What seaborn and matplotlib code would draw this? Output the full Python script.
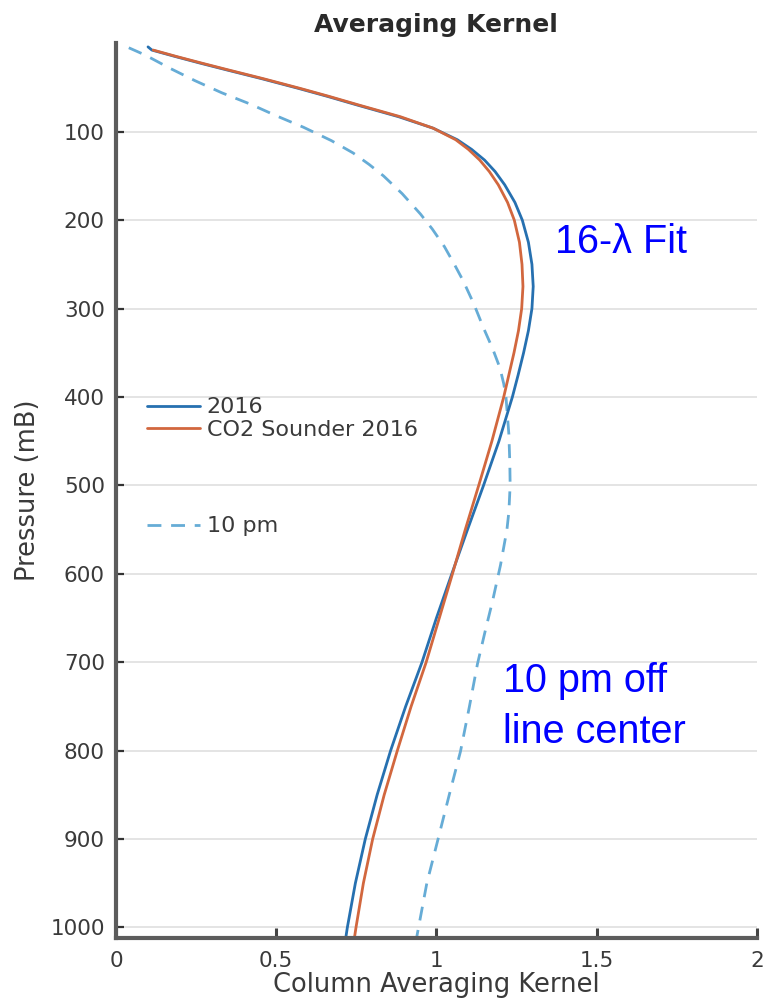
import matplotlib
matplotlib.use("Agg")
import matplotlib.pyplot as plt
import seaborn as sns

# Column averaging kernel profiles (pressure in mB, kernel dimensionless)
pressure_2016 = [4, 7.6, 15, 22.6, 30, 40, 51, 60, 70, 83, 96, 109, 120, 132, 145,
                 160, 180, 200, 225, 250, 275, 300, 325, 350, 375, 400, 450, 500,
                 550, 600, 650, 700, 750, 800, 850, 900, 950, 1000, 1012]
kernel_2016 = [0.10, 0.112, 0.186, 0.265, 0.345, 0.455, 0.57, 0.66, 0.755, 0.882,
               0.99, 1.065, 1.11, 1.15, 1.183, 1.213, 1.245, 1.268, 1.287, 1.298,
               1.302, 1.298, 1.287, 1.272, 1.255, 1.237, 1.195, 1.147, 1.097,
               1.048, 1.0, 0.955, 0.904, 0.857, 0.815, 0.778, 0.747, 0.722, 0.717]

pressure_sounder = [7.6, 15, 22.6, 30, 40, 51, 60, 70, 83, 96, 109, 120, 132, 145,
                    160, 180, 200, 225, 250, 275, 300, 325, 350, 375, 400, 450, 500,
                    550, 600, 650, 700, 750, 800, 850, 900, 950, 1000, 1012]
kernel_sounder = [0.116, 0.19, 0.27, 0.35, 0.46, 0.575, 0.665, 0.76, 0.8875, 0.99,
                  1.06, 1.10, 1.135, 1.165, 1.193, 1.222, 1.243, 1.259, 1.267,
                  1.27, 1.266, 1.256, 1.242, 1.226, 1.21, 1.173, 1.132, 1.09, 1.05,
                  1.009, 0.968, 0.921, 0.878, 0.837, 0.801, 0.772, 0.749, 0.744]

pressure_10pm = [5, 13.2, 28.3, 42.3, 55.9, 68.7, 82.2, 94.9, 110, 124, 137, 150,
                 170, 193, 210, 230, 250, 269, 295, 322, 345, 367, 385, 400, 442,
                 475, 500, 530, 550, 590, 631, 665, 702, 750, 801, 850, 903, 950,
                 1008, 1012]
kernel_10pm = [0.04, 0.091, 0.169, 0.247, 0.33, 0.419, 0.502, 0.585, 0.672, 0.74,
               0.79, 0.835, 0.893, 0.95, 0.987, 1.025, 1.056, 1.084, 1.117, 1.147,
               1.175, 1.198, 1.21, 1.217, 1.226, 1.229, 1.23, 1.226, 1.22, 1.20,
               1.175, 1.152, 1.128, 1.103, 1.075, 1.04, 1.003, 0.97, 0.94, 0.938]

series_labels = ["2016", "CO2 Sounder 2016", "10 pm"]
y_ticks = [100, 200, 300, 400, 500, 600, 700, 800, 900, 1000]
x_ticks = [0, 0.5, 1, 1.5, 2]
x_tick_labels = ["0", "0.5", "1", "1.5", "2"]

sns.set_theme(style="white")
plt.rcParams["font.family"] = ["DejaVu Sans"]

text_gray = "#3a3a3a"
blue = "#2670b0"
red = "#d2673e"
light_blue = "#66acd6"

fig = plt.figure(figsize=(7.63, 10.01), dpi=100)
ax = fig.add_axes([0.152, 0.0629, 0.840, 0.8938])

sns.lineplot(x=kernel_10pm, y=pressure_10pm, sort=False, estimator=None,
             color=light_blue, linewidth=2.0, linestyle=(0, (5, 3.5)),
             label=series_labels[2], ax=ax)
sns.lineplot(x=kernel_2016, y=pressure_2016, sort=False, estimator=None,
             color=blue, linewidth=2.0, label=series_labels[0], ax=ax)
sns.lineplot(x=kernel_sounder, y=pressure_sounder, sort=False, estimator=None,
             color=red, linewidth=2.0, label=series_labels[1], ax=ax)
if ax.get_legend() is not None:
    ax.get_legend().remove()

ax.set_xlim(0, 2)
ax.set_ylim(1012, 0)
ax.set_yticks(y_ticks)
ax.set_yticklabels([str(v) for v in y_ticks])
ax.set_xticks(x_ticks)
ax.set_xticklabels(x_tick_labels)

ax.yaxis.grid(True, color="#e4e4e4", linewidth=1.4)
ax.xaxis.grid(False)
ax.set_axisbelow(True)

for side in ("top", "right"):
    ax.spines[side].set_visible(False)
for side in ("left", "bottom"):
    ax.spines[side].set_color("#5c5c5c")
    ax.spines[side].set_linewidth(3.0)

ax.tick_params(axis="y", left=True, direction="in", length=6, width=1.6,
               color="#333333", labelsize=15.5, labelcolor=text_gray, pad=8)
ax.tick_params(axis="x", bottom=True, direction="in", length=7, width=2.2,
               color="#444444", labelsize=15.5, labelcolor=text_gray, pad=9)

ax.set_title("Averaging Kernel", fontsize=18, fontweight="bold",
             color="#2a2a2a", pad=8)
ax.set_xlabel("Column Averaging Kernel", fontsize=18.5, color=text_gray, labelpad=1)
ax.set_ylabel("Pressure (mB)", fontsize=18.5, color=text_gray, labelpad=7)

handles, labels = ax.get_legend_handles_labels()
lookup = dict(zip(labels, handles))
leg1 = ax.legend([lookup[series_labels[0]], lookup[series_labels[1]]],
                 series_labels[:2], loc="center left",
                 bbox_to_anchor=(0.048, 0.5806), frameon=False, fontsize=16,
                 handlelength=2.4, handletextpad=0.3, labelspacing=0.1,
                 borderpad=0, borderaxespad=0, labelcolor=text_gray)
ax.add_artist(leg1)
ax.legend([lookup[series_labels[2]]], [series_labels[2]], loc="center left",
          bbox_to_anchor=(0.048, 0.4602), frameon=False, fontsize=16,
          handlelength=2.4, handletextpad=0.3, borderpad=0, borderaxespad=0,
          labelcolor=text_gray)

note_font = ["Liberation Sans", "DejaVu Sans"]
fig.text(0.7274, 0.7473, "16-λ Fit", color="#0000ff", fontsize=28.5,
         family=note_font, va="baseline", ha="left")
fig.text(0.659, 0.3087, "10 pm off", color="#0000ff", fontsize=28.5,
         family=note_font, va="baseline", ha="left")
fig.text(0.659, 0.2577, "line center", color="#0000ff", fontsize=28.5,
         family=note_font, va="baseline", ha="left")

fig.savefig("out.png", dpi=100)
